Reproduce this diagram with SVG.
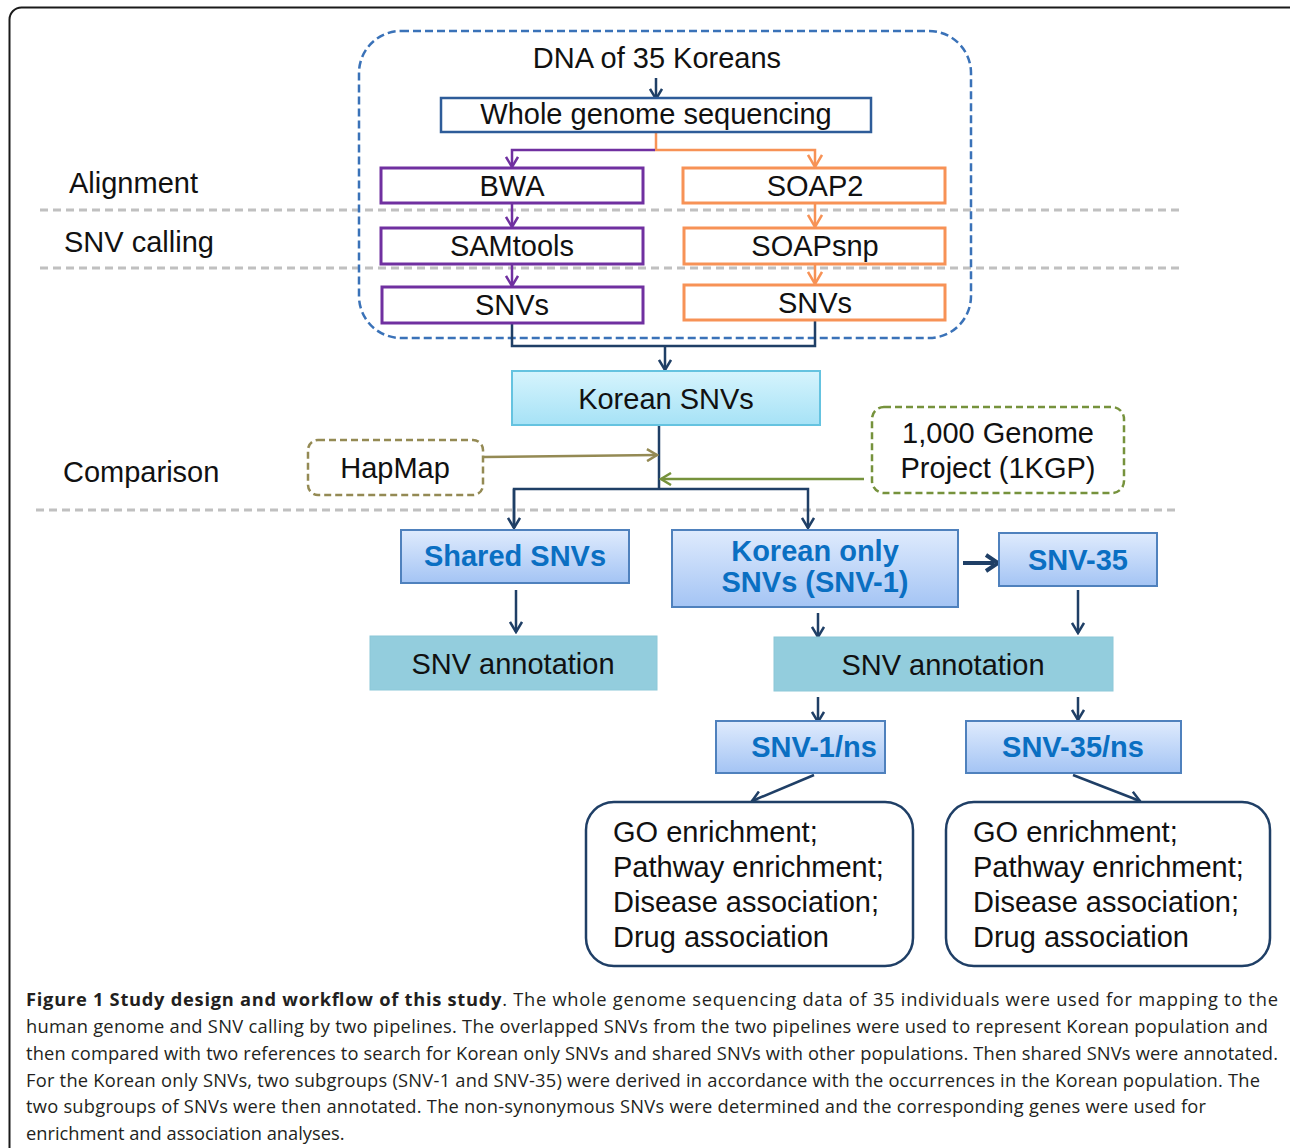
<svg xmlns="http://www.w3.org/2000/svg" width="1290" height="1148" viewBox="0 0 1290 1148">
<defs>
<style>
.t{font-family:"Liberation Sans",Arial,sans-serif;font-size:29px;fill:#111;text-anchor:middle}
.tl{font-family:"Liberation Sans",Arial,sans-serif;font-size:29px;fill:#111}
.b{font-family:"Liberation Sans",Arial,sans-serif;font-size:29px;font-weight:bold;fill:#0a6fc2;text-anchor:middle}
.cap{font-family:"Open Sans","DejaVu Sans",sans-serif;font-size:18.3px;fill:#231f20}
.nv{fill:none;stroke:#1f3f66;stroke-width:2.5}
.pu{fill:none;stroke:#7030a0;stroke-width:2.5}
.or{fill:none;stroke:#f79256;stroke-width:2.5}
.gd{fill:none;stroke:#c0c0c0;stroke-width:3;stroke-dasharray:8 5}
.pbox{fill:#fff;stroke:#7030a0;stroke-width:3}
.obox{fill:#fff;stroke:#f79256;stroke-width:3}
.bbox{fill:url(#gB);stroke:#4f81bd;stroke-width:2}
.ann{fill:#93cddd;stroke:#8cc8d8;stroke-width:1}
.rbox{fill:#fff;stroke:#1f3f66;stroke-width:2.5}
</style>
<linearGradient id="gB" x1="0" y1="0" x2="0" y2="1"><stop offset="0" stop-color="#dfebfd"/><stop offset="1" stop-color="#a4c4f4"/></linearGradient>
<linearGradient id="gC" x1="0" y1="0" x2="0" y2="1"><stop offset="0" stop-color="#d6f4fd"/><stop offset="1" stop-color="#a6e2f6"/></linearGradient>
<marker id="aN" viewBox="0 0 14 14" refX="12" refY="7" markerWidth="14" markerHeight="14" markerUnits="userSpaceOnUse" orient="auto"><path d="M2,1 L12,7 L2,13" fill="none" stroke="#1f3f66" stroke-width="2.5"/></marker>
<marker id="aP" viewBox="0 0 14 14" refX="12" refY="7" markerWidth="14" markerHeight="14" markerUnits="userSpaceOnUse" orient="auto"><path d="M2,1 L12,7 L2,13" fill="none" stroke="#7030a0" stroke-width="2.5"/></marker>
<marker id="aO" viewBox="0 0 16 16" refX="14" refY="8" markerWidth="16" markerHeight="16" markerUnits="userSpaceOnUse" orient="auto"><path d="M2,1 L14,8 L2,15" fill="none" stroke="#f79256" stroke-width="2.5"/></marker>
<marker id="aH" viewBox="0 0 14 14" refX="12" refY="7" markerWidth="14" markerHeight="14" markerUnits="userSpaceOnUse" orient="auto"><path d="M2,1 L12,7 L2,13" fill="none" stroke="#948a54" stroke-width="2.5"/></marker>
<marker id="aG" viewBox="0 0 14 14" refX="12" refY="7" markerWidth="14" markerHeight="14" markerUnits="userSpaceOnUse" orient="auto"><path d="M2,1 L12,7 L2,13" fill="none" stroke="#76923c" stroke-width="2.5"/></marker>
</defs>
<rect width="1290" height="1148" fill="#fff"/>
<rect x="9.5" y="7.5" width="1300" height="1170" rx="12" fill="none" stroke="#1a1a1a" stroke-width="2"/>

<g id="stages">
<text class="tl" x="69" y="193">Alignment</text>
<text class="tl" x="64" y="252">SNV calling</text>
<text class="tl" x="63" y="482">Comparison</text>
<line class="gd" x1="40" y1="210" x2="1180" y2="210"/>
<line class="gd" x1="40" y1="268" x2="1180" y2="268"/>
<line class="gd" x1="36" y1="510" x2="1176" y2="510"/>
</g>

<g id="container">
<rect x="359" y="31" width="612" height="307" rx="42" fill="none" stroke="#3a72b8" stroke-width="2.5" stroke-dasharray="8 4"/>
</g>

<g id="connectors">
<line class="nv" x1="656" y1="78" x2="656" y2="99" marker-end="url(#aN)"/>
<polyline class="or" points="656,132 656,150 815,150 815,167" marker-end="url(#aO)"/>
<polyline class="pu" points="655,150 512,150 512,167" marker-end="url(#aP)"/>
<line class="pu" x1="512" y1="204" x2="512" y2="227" marker-end="url(#aP)"/>
<line class="pu" x1="512" y1="265" x2="512" y2="286" marker-end="url(#aP)"/>
<line class="or" x1="815" y1="204" x2="815" y2="227" marker-end="url(#aO)"/>
<line class="or" x1="815" y1="265" x2="815" y2="284" marker-end="url(#aO)"/>
<polyline class="nv" points="512,324 512,346 815,346 815,321"/>
<line class="nv" x1="665" y1="346" x2="665" y2="370" marker-end="url(#aN)"/>
<line class="nv" x1="659" y1="426" x2="659" y2="489"/>
<line x1="484" y1="457" x2="657" y2="455" stroke="#948a54" stroke-width="2.5" marker-end="url(#aH)"/>
<line x1="864" y1="479" x2="661" y2="479" stroke="#76923c" stroke-width="2.5" marker-end="url(#aG)"/>
<polyline class="nv" points="514,528 514,489 808,489 808,528" marker-start="url(#aN)" marker-end="url(#aN)" style="marker-start:none"/>
<line class="nv" x1="514" y1="489" x2="514" y2="528" marker-end="url(#aN)"/>
<line x1="963" y1="563" x2="994" y2="563" stroke="#1f3f66" stroke-width="4"/>
<path d="M986,555 L998,563 L986,571" fill="none" stroke="#1f3f66" stroke-width="4"/>
<line class="nv" x1="516" y1="590" x2="516" y2="632" marker-end="url(#aN)"/>
<line class="nv" x1="818" y1="613" x2="818" y2="637" marker-end="url(#aN)"/>
<line class="nv" x1="1078" y1="590" x2="1078" y2="633" marker-end="url(#aN)"/>
<line class="nv" x1="818" y1="697" x2="818" y2="722" marker-end="url(#aN)"/>
<line class="nv" x1="1078" y1="697" x2="1078" y2="720" marker-end="url(#aN)"/>
<line class="nv" x1="814" y1="775" x2="752" y2="801" marker-end="url(#aN)"/>
<line class="nv" x1="1073" y1="775" x2="1140" y2="801" marker-end="url(#aN)"/>
</g>

<g id="n-dna"><text class="t" x="657" y="68">DNA of 35 Koreans</text></g>
<g id="n-wgs"><rect x="441" y="98" width="430" height="34" fill="#fff" stroke="#2e5c99" stroke-width="2.5"/><text class="t" x="656" y="124">Whole genome sequencing</text></g>
<g id="n-bwa"><rect class="pbox" x="381" y="168" width="262" height="35"/><text class="t" x="512" y="196">BWA</text></g>
<g id="n-soap2"><rect class="obox" x="683" y="168" width="262" height="35"/><text class="t" x="815" y="196">SOAP2</text></g>
<g id="n-samtools"><rect class="pbox" x="381" y="228" width="262" height="36"/><text class="t" x="512" y="256">SAMtools</text></g>
<g id="n-soapsnp"><rect class="obox" x="684" y="228" width="261" height="36"/><text class="t" x="815" y="256">SOAPsnp</text></g>
<g id="n-snvs-l"><rect class="pbox" x="382" y="287" width="261" height="36"/><text class="t" x="512" y="315">SNVs</text></g>
<g id="n-snvs-r"><rect class="obox" x="684" y="285" width="261" height="35"/><text class="t" x="815" y="313">SNVs</text></g>
<g id="n-korean"><rect x="512" y="371" width="308" height="54" fill="url(#gC)" stroke="#65c3e0" stroke-width="2"/><text class="t" x="666" y="409">Korean SNVs</text></g>
<g id="n-hapmap"><rect x="308" y="440" width="175" height="55" rx="10" fill="#fff" stroke="#948a54" stroke-width="2.5" stroke-dasharray="7 4"/><text class="t" x="395" y="478">HapMap</text></g>
<g id="n-1kgp"><rect x="872" y="407" width="252" height="86" rx="12" fill="#fff" stroke="#76923c" stroke-width="2.5" stroke-dasharray="7 4"/><text class="t" x="998" y="443">1,000 Genome</text><text class="t" x="998" y="478">Project (1KGP)</text></g>
<g id="n-shared"><rect class="bbox" x="401" y="530" width="228" height="53"/><text class="b" x="515" y="566">Shared SNVs</text></g>
<g id="n-konly"><rect class="bbox" x="672" y="530" width="286" height="77"/><text class="b" x="815" y="561">Korean only</text><text class="b" x="815" y="592">SNVs (SNV-1)</text></g>
<g id="n-snv35"><rect class="bbox" x="999" y="533" width="158" height="53"/><text class="b" x="1078" y="570">SNV-35</text></g>
<g id="n-ann-l"><rect class="ann" x="370" y="636" width="287" height="54"/><text class="t" x="513" y="674">SNV annotation</text></g>
<g id="n-ann-r"><rect class="ann" x="774" y="637" width="339" height="54"/><text class="t" x="943" y="675">SNV annotation</text></g>
<g id="n-snv1ns"><rect class="bbox" x="716" y="721" width="169" height="52"/><text class="b" x="814" y="757">SNV-1/ns</text></g>
<g id="n-snv35ns"><rect class="bbox" x="966" y="721" width="215" height="52"/><text class="b" x="1073" y="757">SNV-35/ns</text></g>
<g id="n-res-l"><rect class="rbox" x="586" y="802" width="327" height="164" rx="28"/>
<text class="tl" x="613" y="842">GO enrichment;</text><text class="tl" x="613" y="877">Pathway enrichment;</text><text class="tl" x="613" y="912">Disease association;</text><text class="tl" x="613" y="947">Drug association</text></g>
<g id="n-res-r"><rect class="rbox" x="946" y="802" width="324" height="164" rx="28"/>
<text class="tl" x="973" y="842">GO enrichment;</text><text class="tl" x="973" y="877">Pathway enrichment;</text><text class="tl" x="973" y="912">Disease association;</text><text class="tl" x="973" y="947">Drug association</text></g>

<g id="caption">
<text class="cap" x="26" y="1006" textLength="1252"><tspan font-weight="bold">Figure 1 Study design and workflow of this study</tspan>. The whole genome sequencing data of 35 individuals were used for mapping to the</text>
<text class="cap" x="26" y="1033" textLength="1242">human genome and SNV calling by two pipelines. The overlapped SNVs from the two pipelines were used to represent Korean population and</text>
<text class="cap" x="26" y="1060" textLength="1252">then compared with two references to search for Korean only SNVs and shared SNVs with other populations. Then shared SNVs were annotated.</text>
<text class="cap" x="26" y="1087" textLength="1234">For the Korean only SNVs, two subgroups (SNV-1 and SNV-35) were derived in accordance with the occurrences in the Korean population. The</text>
<text class="cap" x="26" y="1113" textLength="1180">two subgroups of SNVs were then annotated. The non-synonymous SNVs were determined and the corresponding genes were used for</text>
<text class="cap" x="26" y="1140">enrichment and association analyses.</text>
</g>
</svg>
